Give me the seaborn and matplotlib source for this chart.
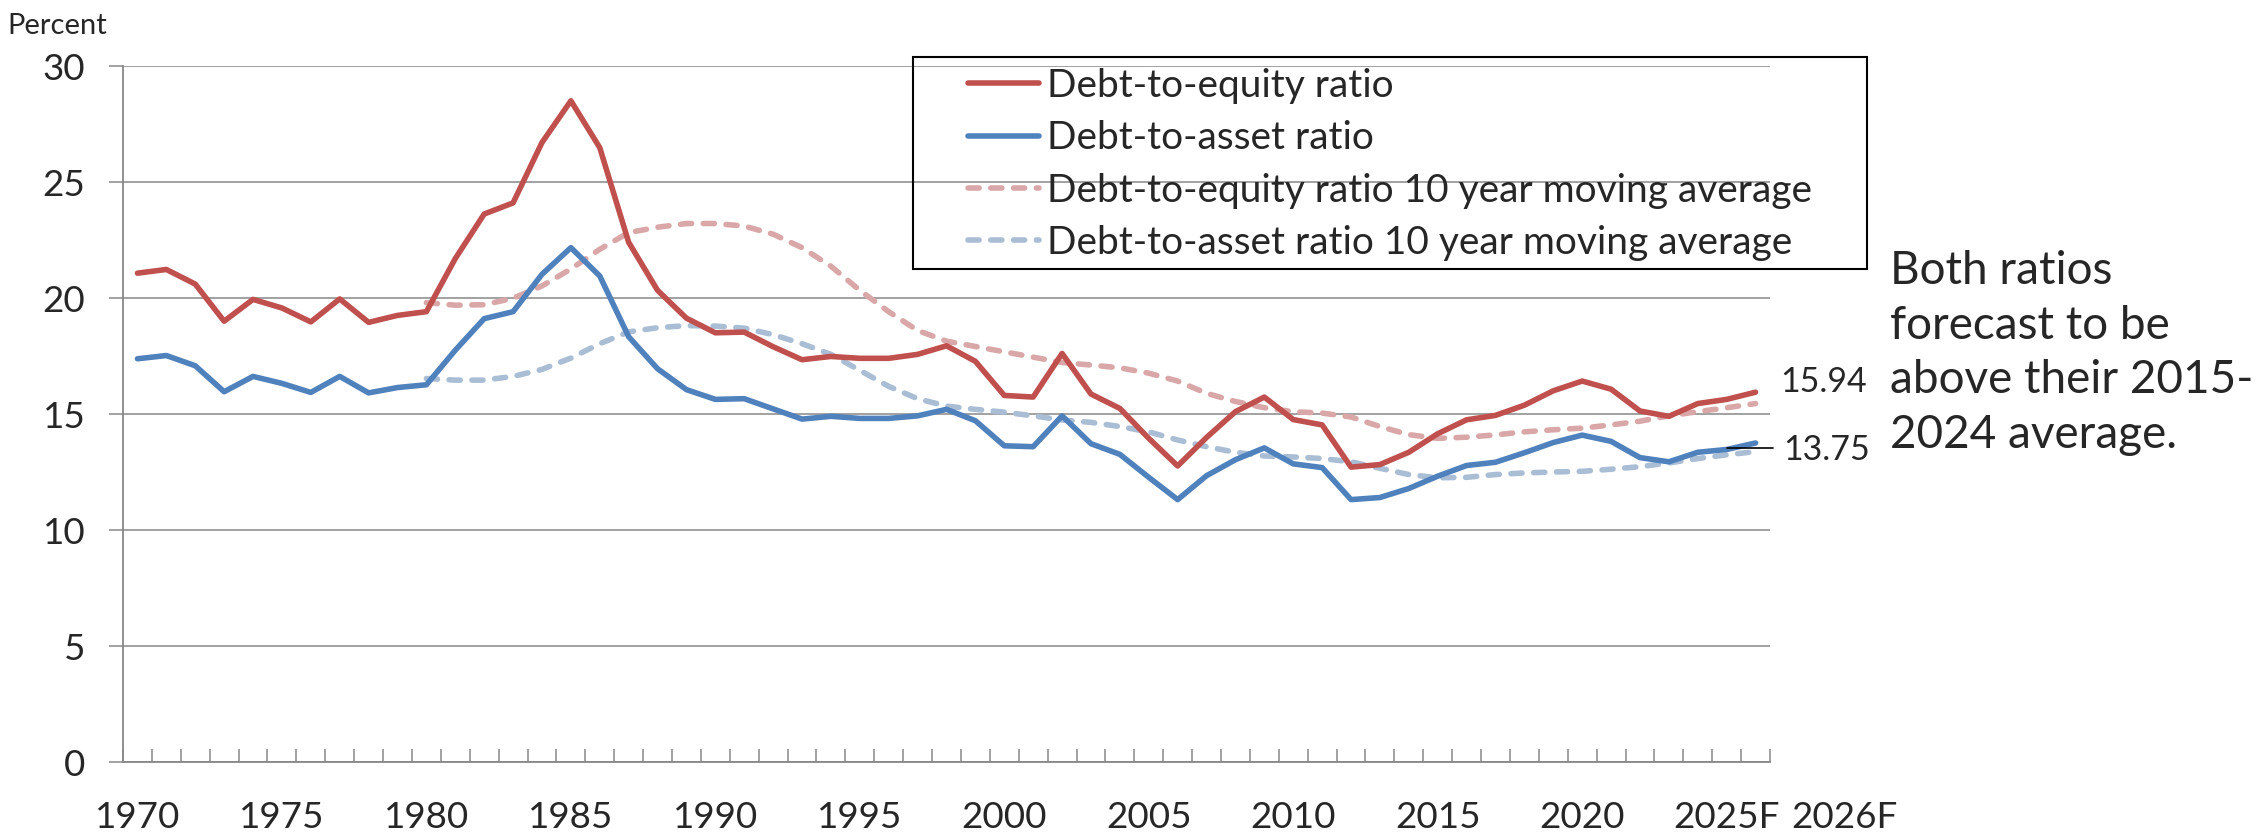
import numpy as np
import pandas as pd
import matplotlib
matplotlib.use("Agg")
import matplotlib.pyplot as plt
import matplotlib.transforms as mtransforms
from matplotlib.patches import Rectangle
import seaborn as sns

# Data (percent)
years = list(range(1970, 2027))
debt_to_equity = [21.07, 21.23, 20.6, 19.0, 19.94, 19.57, 18.97, 19.96, 18.95, 19.25,
                  19.41, 21.7, 23.62, 24.1, 26.7, 28.5, 26.48, 22.4, 20.33, 19.13,
                  18.5, 18.53, 17.9, 17.34, 17.48, 17.4, 17.4, 17.57, 17.94, 17.27,
                  15.8, 15.73, 17.61, 15.86, 15.24, 13.95, 12.76, 13.99, 15.1, 15.73,
                  14.76, 14.53, 12.71, 12.82, 13.35, 14.15, 14.75, 14.94, 15.38, 16.0,
                  16.42, 16.07, 15.13, 14.9, 15.45, 15.63, 15.94]
debt_to_asset = [17.38, 17.52, 17.08, 15.96, 16.62, 16.32, 15.93, 16.62, 15.91, 16.14,
                 16.26, 17.75, 19.11, 19.41, 21.02, 22.17, 20.95, 18.33, 16.95, 16.05,
                 15.63, 15.66, 15.22, 14.78, 14.9, 14.81, 14.81, 14.92, 15.2, 14.71,
                 13.63, 13.59, 14.92, 13.72, 13.26, 12.27, 11.31, 12.34, 13.03, 13.54,
                 12.85, 12.69, 11.31, 11.4, 11.79, 12.32, 12.78, 12.92, 13.33, 13.77,
                 14.09, 13.82, 13.12, 12.94, 13.35, 13.47, 13.75]

ma_years = list(range(1980, 2027))
de_moving_avg = [19.8, 19.69, 19.71, 19.99, 20.52, 21.25, 22.1, 22.82, 23.05, 23.21,
                 23.21, 23.1, 22.75, 22.17, 21.37, 20.33, 19.41, 18.6, 18.14, 17.91,
                 17.68, 17.45, 17.22, 17.11, 16.99, 16.76, 16.42, 15.89, 15.54, 15.27,
                 15.1, 15.04, 14.87, 14.46, 14.11, 13.95, 14.0, 14.1, 14.23, 14.32,
                 14.39, 14.53, 14.69, 14.92, 15.1, 15.27, 15.45]
da_moving_avg = [16.53, 16.46, 16.46, 16.62, 16.92, 17.41, 18.03, 18.54, 18.72, 18.81,
                 18.79, 18.7, 18.42, 18.03, 17.57, 16.88, 16.19, 15.66, 15.34, 15.2,
                 15.08, 14.92, 14.74, 14.64, 14.46, 14.23, 13.88, 13.59, 13.35, 13.19,
                 13.15, 13.08, 12.94, 12.66, 12.39, 12.25, 12.27, 12.39, 12.46, 12.5,
                 12.53, 12.62, 12.73, 12.89, 13.08, 13.24, 13.38]

tick_years = [1970, 1975, 1980, 1985, 1990, 1995, 2000, 2005, 2010, 2015, 2020, 2025, 2026]
tick_labels = ["1970", "1975", "1980", "1985", "1990", "1995", "2000", "2005",
               "2010", "2015", "2020", "2025F", "2026F"]

RED = "#C0504D"
BLUE = "#4F81BD"
RED_MA = "#D9A7A7"
BLUE_MA = "#A9BDD5"
GRID = "#888888"

sns.set_theme(style="white")
plt.rcParams["font.family"] = ["Lato", "DejaVu Sans"]

fig = plt.figure(figsize=(22.62, 8.36), dpi=100)
ax = fig.add_axes([123 / 2262, 1 - 762 / 836, (1770 - 123) / 2262, (762 - 66) / 836])

sns.lineplot(x=years, y=debt_to_equity, ax=ax, color=RED, linewidth=4,
             label="Debt-to-equity ratio", zorder=4)
sns.lineplot(x=years, y=debt_to_asset, ax=ax, color=BLUE, linewidth=4,
             label="Debt-to-asset ratio", zorder=4)
sns.lineplot(x=ma_years, y=de_moving_avg, ax=ax, color=RED_MA, linewidth=4,
             label="Debt-to-equity ratio 10 year moving average", zorder=3)
sns.lineplot(x=ma_years, y=da_moving_avg, ax=ax, color=BLUE_MA, linewidth=4,
             label="Debt-to-asset ratio 10 year moving average", zorder=3)
for ln in ax.lines[2:4]:
    ln.set_dashes((2, 2.1))
    ln.set_dash_capstyle("round")
for ln in ax.lines[:2]:
    ln.set_solid_capstyle("round")
    ln.set_solid_joinstyle("round")

ax.set_xlim(1969.5, 2026.5)
ax.set_ylim(0, 30)
ax.set_yticks(range(0, 31, 5))
ax.set_xticks(tick_years)
ax.set_xticklabels(tick_labels)
ax.set_xticks(np.arange(1969.5, 2027, 1), minor=True)

ax.grid(axis="y", color=GRID, linewidth=1.1)
ax.grid(axis="x", visible=False)
ax.set_axisbelow(True)
for side in ["top", "right"]:
    ax.spines[side].set_visible(False)
for side in ["left", "bottom"]:
    ax.spines[side].set_color(GRID)
    ax.spines[side].set_linewidth(1.3)

ax.tick_params(axis="y", which="major", length=10, width=1.1, color=GRID,
               direction="out", left=True, labelsize=26.5, pad=17)
ax.tick_params(axis="x", which="major", length=0, labelsize=26.5, pad=28)
ax.tick_params(axis="x", which="minor", length=9.5, width=1.1, color=GRID,
               direction="in", bottom=True)

# 2026F label sits to the right of the axis end in the original
lbl = ax.get_xticklabels()[-1]
lbl.set_transform(lbl.get_transform() + mtransforms.ScaledTranslation(0.89, 0, fig.dpi_scale_trans))

# legend with a hand-drawn frame
fig.patches.append(Rectangle((913 / 2262, 1 - 269 / 836), 954 / 2262, 212 / 836,
                             transform=fig.transFigure, fill=False,
                             edgecolor="black", linewidth=1.5, zorder=5))
ax.legend(loc="upper left", bbox_to_anchor=(968 / 2262, 1 - 68 / 836),
          bbox_transform=fig.transFigure, frameon=False, fontsize=28,
          borderpad=0, borderaxespad=0, handlelength=1.83, handletextpad=0.2,
          labelspacing=0.42)

# end-of-series values
ax.text(2026.87, 16.38, "15.94", fontsize=24.5, ha="left", va="center", clip_on=False)
ax.text(2026.97, 13.45, "13.75", fontsize=24.5, ha="left", va="center", clip_on=False)
ax.plot([2025.0, 2026.6], [13.53, 13.53], color="black", linewidth=1.2,
        clip_on=False, zorder=6)

fig.text(7 / 2262, 1 - 26 / 836, "Percent", fontsize=21, ha="left", va="center")
fig.text(1890 / 2262, 1 - 353 / 836,
         "Both ratios\nforecast to be\nabove their 2015-\n2024 average.",
         fontsize=33, ha="left", va="center", linespacing=1.37)

fig.savefig("out.png", dpi=100)
